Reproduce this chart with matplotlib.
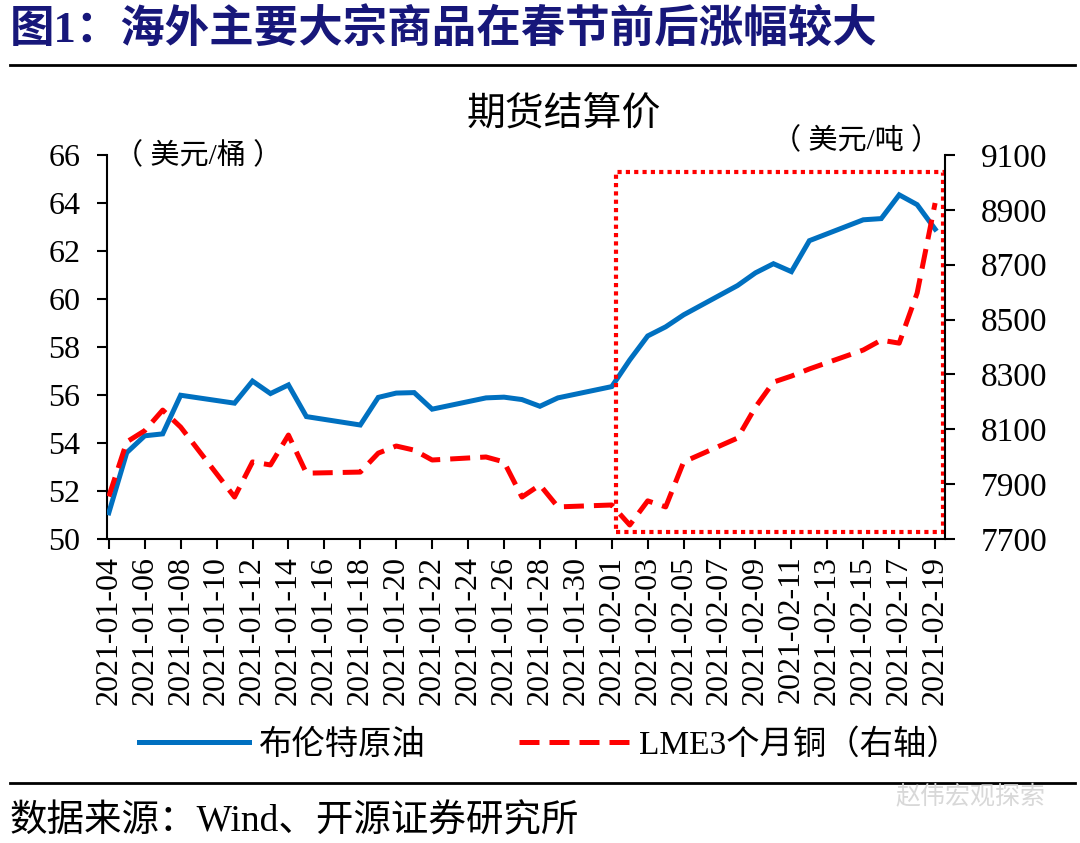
import matplotlib
matplotlib.use("Agg")
import matplotlib.pyplot as plt
import matplotlib.dates as mdates
from matplotlib.patches import Rectangle
from matplotlib.lines import Line2D
import numpy as np
import datetime as dt

plt.rcParams['font.family'] = ['Liberation Serif', 'Noto Sans CJK SC', 'DejaVu Sans']

# ---------------- data ----------------
dates = ["2021-01-04", "2021-01-05", "2021-01-06", "2021-01-07", "2021-01-08",
         "2021-01-11", "2021-01-12", "2021-01-13", "2021-01-14", "2021-01-15",
         "2021-01-18", "2021-01-19", "2021-01-20", "2021-01-21", "2021-01-22",
         "2021-01-25", "2021-01-26", "2021-01-27", "2021-01-28", "2021-01-29",
         "2021-02-01", "2021-02-02", "2021-02-03", "2021-02-04", "2021-02-05",
         "2021-02-08", "2021-02-09", "2021-02-10", "2021-02-11", "2021-02-12",
         "2021-02-15", "2021-02-16", "2021-02-17", "2021-02-18", "2021-02-19"]

brent = [51.09, 53.60, 54.30, 54.38, 55.99,
         55.66, 56.58, 56.06, 56.42, 55.10,
         54.75, 55.90, 56.08, 56.10, 55.41,
         55.88, 55.91, 55.81, 55.53, 55.88,
         56.35, 57.46, 58.46, 58.84, 59.34,
         60.56, 61.09, 61.47, 61.14, 62.43,
         63.30, 63.35, 64.34, 63.93, 62.91]

copper = [7855, 8054, 8095, 8170, 8108,
          7853, 7981, 7970, 8079, 7940,
          7944, 8013, 8039, 8024, 7988,
          7999, 7981, 7853, 7897, 7817,
          7824, 7751, 7839, 7817, 7981,
          8068, 8181, 8272, 8294, 8320,
          8389, 8425, 8414, 8597, 8925]

left_ticks = [50, 52, 54, 56, 58, 60, 62, 64, 66]
right_ticks = [7700, 7900, 8100, 8300, 8500, 8700, 8900, 9100]

title = "图1：海外主要大宗商品在春节前后涨幅较大"
subtitle = "期货结算价"
left_unit = "（ 美元/桶 ）"
right_unit = "（ 美元/吨 ）"
series_names = ["布伦特原油", "LME3个月铜（右轴）"]
source = "数据来源：Wind、开源证券研究所"
watermark = "赵伟宏观探索"

# highlight box (date range, left-axis value range)
box_start, box_end = "2021-02-01", "2021-02-19"
box_low, box_high = 50.3, 65.3

# ---------------- plot ----------------
x = [dt.datetime.strptime(d, "%Y-%m-%d") for d in dates]
xn = mdates.date2num(x)

fig = plt.figure(figsize=(10.8, 8.43), dpi=100)
W, H = 1080, 843
ax = fig.add_axes([107 / W, 1 - 539 / H, (945 - 107) / W, (539 - 155) / H])
ax2 = ax.twinx()

blue = '#0070C0'
red = '#FF0000'

l1, = ax.plot(xn, brent, color=blue, lw=3.6, solid_joinstyle='miter', zorder=3)
l2, = ax2.plot(xn, copper, color=red, lw=3.6, linestyle=(0, (4, 2)), zorder=3)

ax.set_ylim(left_ticks[0], left_ticks[-1])
ax2.set_ylim(right_ticks[0], right_ticks[-1])
ax.set_yticks(left_ticks)
ax2.set_yticks(right_ticks)

d0 = xn[0]
d1 = mdates.date2num(dt.datetime(2021, 2, 19))
ax.set_xlim(d0 - 0.1, d1 + 0.55)
ticks = np.arange(d0, d1 + 0.5, 2)
ax.set_xticks(ticks)
ax.set_xticklabels([mdates.num2date(t).strftime("%Y-%m-%d") for t in ticks],
                   rotation=90, fontsize=23)

for a in (ax, ax2):
    a.spines['top'].set_visible(False)
    for s in a.spines.values():
        s.set_linewidth(1.5)
ax.spines['right'].set_visible(False)
ax2.spines['left'].set_visible(False)
ax2.spines['bottom'].set_visible(False)

ax.tick_params(axis='y', direction='out', length=7, width=1.5, pad=12, labelsize=23)
ax.tick_params(axis='x', direction='out', length=7, width=1.5, pad=5)
ax2.tick_params(axis='y', direction='out', length=7, width=1.5, pad=19, labelsize=24)

# highlight box
bx0 = mdates.date2num(dt.datetime.strptime(box_start, "%Y-%m-%d")) + 0.22
bx1 = mdates.date2num(dt.datetime.strptime(box_end, "%Y-%m-%d")) + 0.45
rect = Rectangle((bx0, box_low), bx1 - bx0, box_high - box_low, fill=False,
                 edgecolor=red, lw=3.0, linestyle=(0, (1, 1)), zorder=4,
                 clip_on=False)
ax.add_patch(rect)

# texts
fig.text(10 / W, 1 - 30 / H, title, fontsize=32, fontweight='bold', color='#17177A',
         ha='left', va='center')
fig.add_artist(Line2D([10 / W, 1075 / W], [1 - 65 / H, 1 - 65 / H], color='black', lw=2))
fig.text(564 / W, 1 - 115 / H, subtitle, fontsize=28, ha='center', va='center')
fig.text(114 / W, 1 - 156 / H, left_unit, fontsize=21, ha='left', va='center')
fig.text(940 / W, 1 - 141 / H, right_unit, fontsize=21, ha='right', va='center')

fig.legend([l1, l2], series_names, loc='center', bbox_to_anchor=(0.509, 1 - 745 / H),
           ncol=2, frameon=False, fontsize=24, handlelength=3.3, handletextpad=0.3,
           columnspacing=2.8)

fig.add_artist(Line2D([10 / W, 1075 / W], [1 - 783 / H, 1 - 783 / H], color='black', lw=2))
fig.text(10 / W, 1 - 822 / H, source, fontsize=27, ha='left', va='center')
fig.text(1045 / W, 1 - 796 / H, watermark, fontsize=18, ha='right', va='center',
         color='#D8D8D8')

fig.savefig("out.png", dpi=100)
